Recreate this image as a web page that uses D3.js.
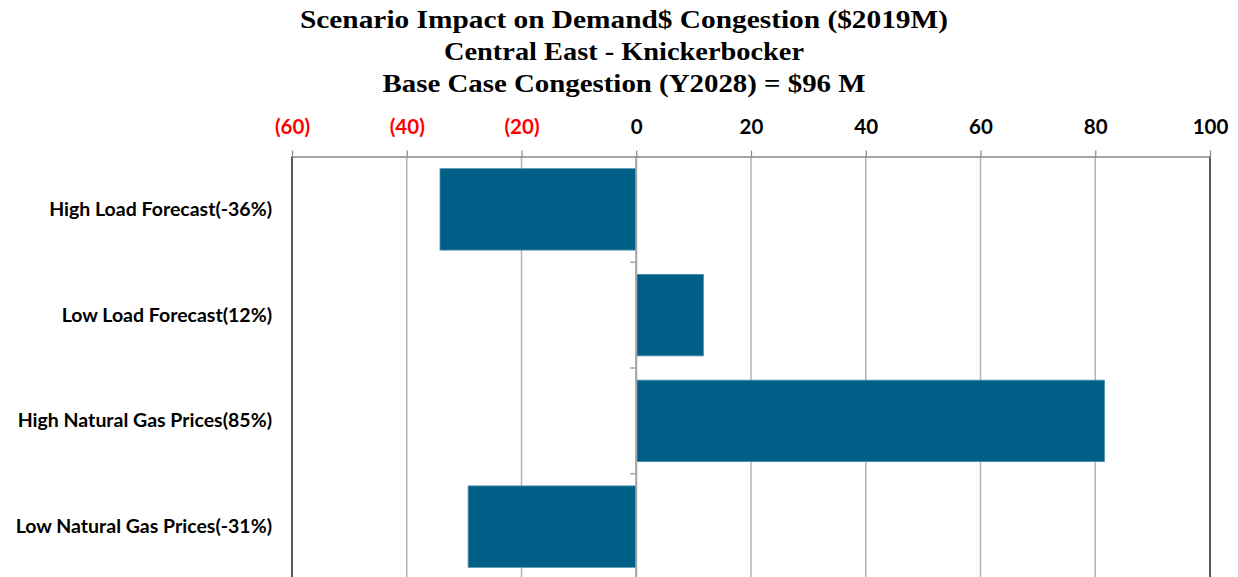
<!DOCTYPE html>
<html>
<head>
<meta charset="utf-8">
<script src="https://cdn.jsdelivr.net/npm/d3@7"></script>
<style>
  body { margin: 0; background: #fff; }
  svg { display: block; }
</style>
</head>
<body>
<div id="chart"></div>
<script>
// chart data
var title_lines = [
    "Scenario Impact on Demand$ Congestion ($2019M)",
    "Central East - Knickerbocker",
    "Base Case Congestion (Y2028) = $96 M"
];
var title_widths = [648, 360, 483];
var categories = [
    "High Load Forecast(-36%)",
    "Low Load Forecast(12%)",
    "High Natural Gas Prices(85%)",
    "Low Natural Gas Prices(-31%)"
];
var values = [-34.2, 11.7, 81.6, -29.3];
var x_ticks = [-60, -40, -20, 0, 20, 40, 60, 80, 100];

var width = 1238, height = 577;
var plot = {left: 292, right: 1210, top: 156.5, bottom: 579.5};

var svg = d3.select("#chart").append("svg")
    .attr("width", width)
    .attr("height", height);

//Scales
var x_scale = d3.scaleLinear()
    .domain([x_ticks[0], x_ticks[x_ticks.length - 1]])
    .range([plot.left, plot.right]);

var row_scale = d3.scaleBand()
    .domain(categories)
    .range([plot.top, plot.bottom]);

var bar_pad = 0.115;

//Title
svg.append("g").selectAll("text")
    .data(title_lines)
    .enter().append("text")
    .attr("x", 624)
    .attr("y", function(d, i) {return 28 + i * 32;})
    .attr("text-anchor", "middle")
    .attr("font-family", "'Liberation Serif', serif")
    .attr("font-weight", "bold")
    .attr("font-size", "26px")
    .attr("textLength", function(d, i) {return title_widths[i];})
    .attr("lengthAdjust", "spacingAndGlyphs")
    .attr("fill", "#000")
    .text(function(d) {return d;});

//Gridlines
svg.append("g").selectAll("line")
    .data(x_ticks.slice(1, -1))
    .enter().append("line")
    .attr("x1", function(d) {return x_scale(d);})
    .attr("x2", function(d) {return x_scale(d);})
    .attr("y1", plot.top)
    .attr("y2", plot.bottom)
    .attr("stroke", "#b3b3b3")
    .attr("stroke-width", 1.5);

//Left / right borders
svg.append("g").selectAll("line")
    .data([x_ticks[0], x_ticks[x_ticks.length - 1]])
    .enter().append("line")
    .attr("x1", function(d) {return x_scale(d);})
    .attr("x2", function(d) {return x_scale(d);})
    .attr("y1", plot.top)
    .attr("y2", plot.bottom)
    .attr("stroke", "#222")
    .attr("stroke-width", 1.5);

//Bars
svg.append("g").selectAll("rect")
    .data(values)
    .enter().append("rect")
    .attr("x", function(d) {return x_scale(Math.min(0, d));})
    .attr("width", function(d) {return Math.abs(x_scale(d) - x_scale(0));})
    .attr("y", function(d, i) {return row_scale(categories[i]) + row_scale.bandwidth() * bar_pad;})
    .attr("height", row_scale.bandwidth() * (1 - 2 * bar_pad))
    .attr("fill", "#005f86")
    .attr("stroke", "#4d8cab")
    .attr("stroke-width", 0.8);

//Zero axis with category ticks
var zero = x_scale(0);
svg.append("line")
    .attr("x1", zero).attr("x2", zero)
    .attr("y1", plot.top).attr("y2", plot.bottom)
    .attr("stroke", "#a6a6a6")
    .attr("stroke-width", 2);

svg.append("g").selectAll("line")
    .data(categories.slice(1))
    .enter().append("line")
    .attr("x1", zero - 6).attr("x2", zero)
    .attr("y1", function(d) {return row_scale(d);})
    .attr("y2", function(d) {return row_scale(d);})
    .attr("stroke", "#a6a6a6")
    .attr("stroke-width", 1.5);

//Top axis
var x_axis = d3.axisTop(x_scale)
    .tickValues(x_ticks)
    .tickSize(6)
    .tickSizeOuter(0)
    .tickPadding(17)
    .tickFormat(function(d) {return d < 0 ? "(" + Math.abs(d) + ")" : d;});

var ax = svg.append("g")
    .attr("transform", "translate(0," + plot.top + ")")
    .call(x_axis);

ax.select(".domain").attr("stroke", "#868686").attr("stroke-width", 1.5);
ax.selectAll(".tick line").attr("stroke", "#868686").attr("stroke-width", 1.2);
ax.selectAll(".tick text")
    .attr("font-family", "Lato, sans-serif")
    .attr("font-weight", "bold")
    .attr("font-size", "20.5px")
    .attr("fill", function(d) {return d < 0 ? "#ff0000" : "#000";});

//Category labels
svg.append("g").selectAll("text")
    .data(categories)
    .enter().append("text")
    .attr("x", 272)
    .attr("y", function(d) {return row_scale(d) + row_scale.bandwidth() / 2;})
    .attr("dy", "0.33em")
    .attr("text-anchor", "end")
    .attr("font-family", "Lato, sans-serif")
    .attr("font-weight", "bold")
    .attr("font-size", "19.5px")
    .attr("fill", "#000")
    .text(function(d) {return d;});
</script>
</body>
</html>
